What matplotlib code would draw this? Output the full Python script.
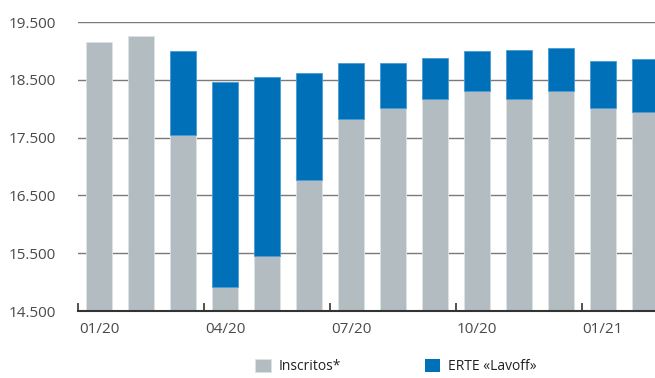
import matplotlib.pyplot as plt
from matplotlib.ticker import FuncFormatter

# Monthly values
months = ['01/20', '02/20', '03/20', '04/20', '05/20', '06/20', '07/20',
          '08/20', '09/20', '10/20', '11/20', '12/20', '01/21', '02/21']
inscritos = [19160, 19250, 17540, 14920, 15460, 16770, 17830,
             18020, 18160, 18310, 18160, 18310, 18020, 17940]
totals = [19160, 19250, 19000, 18460, 18550, 18620, 18790,
          18790, 18870, 18990, 19020, 19045, 18830, 18855]
erte = [t - i for t, i in zip(totals, inscritos)]

GREY = '#b3bdc1'
BLUE = '#0070b8'
TEXT = '#4a4a4a'
BASE = 14500


def thousands(v, pos):
    return '{:,.0f}'.format(v).replace(',', '.')


def main():
    plt.rcParams['font.family'] = ['Open Sans', 'DejaVu Sans']
    fig = plt.figure(figsize=(6.55, 3.78), dpi=100)
    ax = fig.add_axes([78 / 655, 67 / 378, 1 - 78 / 655, 289 / 378])

    x = list(range(len(months)))
    # stacked bars from the axis floor
    ax.bar(x, [v - BASE for v in inscritos], bottom=BASE, width=0.62,
           color=GREY, edgecolor='#dce3e6', linewidth=0.6, label='Inscritos*', zorder=3)
    # no outline on months without ERTE
    ax.bar(x, erte, bottom=inscritos, width=0.62,
           color=BLUE, edgecolor='#4a9ad6', linewidth=[0.6 if e else 0 for e in erte],
           label='ERTE «Lavoff»', zorder=3)

    ax.set_ylim(14500, 19500)
    ax.set_yticks([14500, 15500, 16500, 17500, 18500, 19500])
    ax.yaxis.set_major_formatter(FuncFormatter(thousands))
    ax.set_xlim(-0.5, 13.24)

    # quarterly ticks sit between bars, labels under the quarter's first month
    ax.set_xticks([i - 0.5 for i in range(0, 14, 3)])
    ax.set_xticklabels([])
    ax.set_xticks(list(range(0, 14, 3)), minor=True)
    ax.set_xticklabels([months[i] for i in range(0, 14, 3)], minor=True)
    ax.tick_params(axis='x', which='major', direction='in', length=6, width=1.2, color='#333333')
    ax.tick_params(axis='x', which='minor', length=0, pad=8, labelsize=11, labelcolor=TEXT)
    ax.tick_params(axis='y', length=0, pad=16, labelsize=11, labelcolor=TEXT)

    ax.grid(axis='y', color='#7a7a7a', linewidth=1, zorder=0)
    for side in ['top', 'right', 'left']:
        ax.spines[side].set_visible(False)
    ax.spines['bottom'].set_color('#333333')
    ax.spines['bottom'].set_linewidth(1.5)
    ax.spines['bottom'].set_zorder(4)

    fig.legend(loc='center', bbox_to_anchor=(0.605, 0.03), ncol=2, frameon=False,
               handlelength=1.1, handleheight=1.1, columnspacing=6.0, handletextpad=0.6,
               fontsize=10, labelcolor='#222222')

    fig.savefig('out.png', dpi=100)


if __name__ == '__main__':
    main()
